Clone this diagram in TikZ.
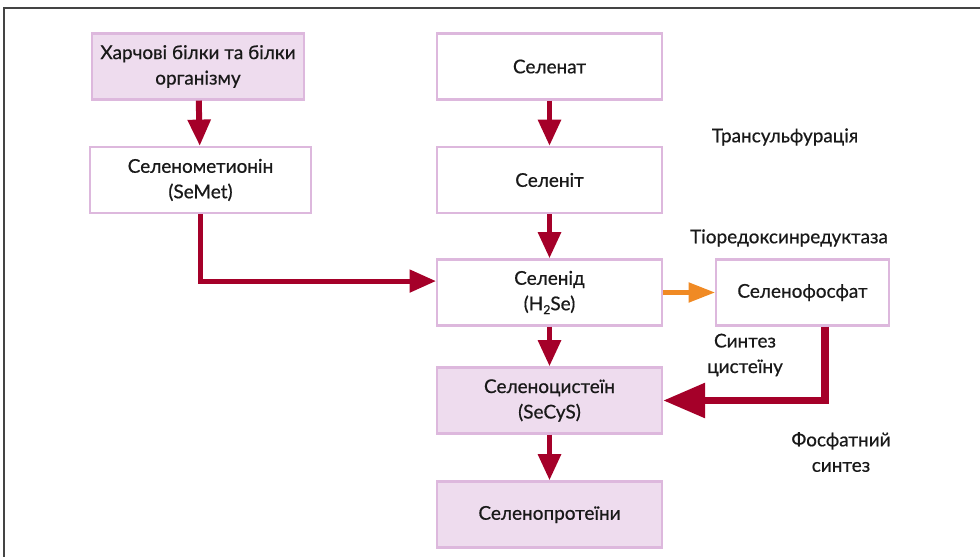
\documentclass[tikz,border=0pt]{standalone}
\usepackage{fontspec}
\setmainfont{Lato}[FakeBold=0.6]
\usetikzlibrary{positioning,arrows.meta}
\definecolor{boxline}{HTML}{DDB8DD}
\definecolor{boxfill}{HTML}{EEDCEE}
\definecolor{arrred}{HTML}{A50029}
\definecolor{arrorange}{HTML}{F08A24}
\definecolor{framegray}{HTML}{444444}

\begin{document}
\begin{tikzpicture}[x=0.02cm, y=-0.02cm,
  every node/.style={font=\fontsize{10.8}{14.5}\selectfont, align=center, text=black!90},
  box/.style={draw=boxline, line width=1.2pt, fill=white, minimum width=4.5cm, minimum height=1.32cm, inner sep=2pt},
  pinkbox/.style={box, fill=boxfill},
  flow/.style={draw=arrred, line width=3.4pt, -{Triangle[length=15pt,width=12.5pt]}},
  lbl/.style={inner sep=0pt}]
\useasboundingbox (0,0) rectangle (980,557);
\draw[framegray, line width=1.1pt] (4,557) -- (4,8) -- (980,8);

% left column
\node[pinkbox, minimum width=4.24cm] (food) at (198,66.5) {Харчові білки та білки\\організму};
\node[box, minimum width=4.42cm] (semet) at (200.5,180) {Селенометионін\\(SeMet)};

% main column
\node[box] (selenat) at (549.5,66.5) {Селенат};
\node[box] (selenit) at (549.5,180) {Селеніт};
\node[box] (selenid) at (549.5,292.5) {Селенід\\(H\raisebox{-0.4ex}{\scriptsize 2}Se)};
\node[pinkbox] (secys) at (549.5,400.5) {Селеноцистеїн\\(SeCyS)};
\node[pinkbox] (seprot) at (549.5,514.5) {Селенопротеїни};

% right side
\node[box, minimum width=3.46cm] (sephos) at (802.5,292.5) {Селенофосфат};

\node[lbl] (transs) at (785,137) {Трансульфурація};
\node[lbl] (tiored) at (789,238) {Тіоредоксинредуктаза};
\node[lbl] (syncys) at (745,355) {Синтез\\цистеїну};
\node[lbl] (phossyn) at (841,452) {Фосфатний\\синтез};

% arrows
\draw[flow] (food) -- (semet);
\draw[flow, line width=2.8pt] (semet.south) |- ([yshift=6.5pt]selenid.west);
\draw[flow] (selenat) -- (selenit);
\draw[flow] (selenit) -- (selenid);
\draw[flow] (selenid) -- (secys);
\draw[flow] (secys) -- (seprot);
\draw[flow, draw=arrorange, line width=2.3pt, -{Triangle[length=15pt,width=11pt]}] (selenid) -- (sephos);
\draw[flow, line width=4.5pt, -{Triangle[length=24pt,width=19pt]}] ([xshift=13pt]sephos.south) |- (secys.east);
\end{tikzpicture}
\end{document}
